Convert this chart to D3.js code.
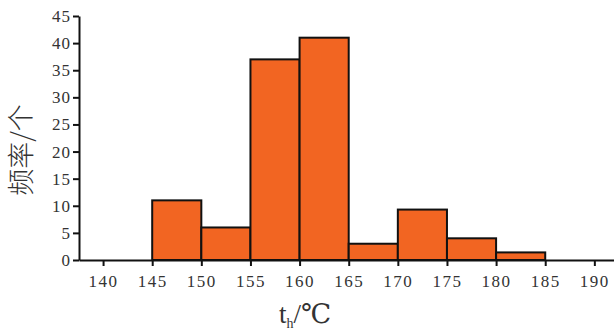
<!DOCTYPE html>
<html>
<head>
<meta charset="utf-8">
<script src="https://cdn.jsdelivr.net/npm/d3@7"></script>
<style>
  body { margin: 0; background: #fff; }
</style>
</head>
<body>
<div id="chart"></div>
<script>
// bins (lower edge, upper edge) and counts
const binStarts = [145, 150, 155, 160, 165, 170, 175, 180];
const binEnds   = [150, 155, 160, 165, 170, 175, 180, 185];
const counts    = [11, 6, 37, 41, 3, 9.3, 4, 1.4];
const xTicks = [140, 145, 150, 155, 160, 165, 170, 175, 180, 185, 190];
const yTicks = [0, 5, 10, 15, 20, 25, 30, 35, 40, 45];

const width = 614, height = 331;
const margin = { top: 16, right: 0, bottom: 71, left: 79 };
const serif = "'Liberation Serif', 'DejaVu Serif', serif";

const svg = d3.select("#chart").append("svg")
    .attr("width", width)
    .attr("height", height);

const x = d3.scaleLinear()
    .domain([137.55, 192])
    .range([margin.left, width - margin.right]);

const y = d3.scaleLinear()
    .domain([0, 45])
    .range([height - margin.bottom, margin.top]);

// bars
svg.selectAll("rect.bar")
    .data(counts)
    .join("rect")
    .attr("class", "bar")
    .attr("x", (d, i) => x(binStarts[i]))
    .attr("width", (d, i) => x(binEnds[i]) - x(binStarts[i]))
    .attr("y", d => y(d))
    .attr("height", d => y(0) - y(d))
    .attr("fill", "#f26522")
    .attr("stroke", "#111")
    .attr("stroke-width", 2);

// x axis
const xAxis = svg.append("g")
    .attr("transform", "translate(0," + y(0) + ")")
    .call(d3.axisBottom(x).tickValues(xTicks).tickSize(6).tickPadding(9).tickSizeOuter(0));
xAxis.select(".domain").attr("stroke", "#111").attr("stroke-width", 2);
xAxis.selectAll(".tick line").attr("stroke", "#111").attr("stroke-width", 2);
xAxis.selectAll("text")
    .style("font-family", serif)
    .style("font-size", "17px")
    .style("letter-spacing", "1.5px")
    .attr("fill", "#333");

// y axis
const yAxis = svg.append("g")
    .attr("transform", "translate(" + margin.left + ",0)")
    .call(d3.axisLeft(y).tickValues(yTicks).tickSize(6).tickPadding(2).tickSizeOuter(0));
yAxis.select(".domain").attr("stroke", "#111").attr("stroke-width", 2);
yAxis.selectAll(".tick line").attr("stroke", "#111").attr("stroke-width", 2);
yAxis.selectAll("text")
    .style("font-family", serif)
    .style("font-size", "17px")
    .style("letter-spacing", "1px")
    .attr("fill", "#333");

// axis titles
svg.append("text")
    .attr("transform", "translate(31,150) rotate(-90)")
    .attr("text-anchor", "middle")
    .attr("fill", "#333")
    .style("font-family", "'Noto Sans CJK SC', sans-serif")
    .style("font-size", "27px")
    .style("font-weight", 300)
    .text("频率/个");

const xl = svg.append("text")
    .attr("x", 305)
    .attr("y", 323)
    .attr("text-anchor", "middle")
    .attr("fill", "#333")
    .style("font-family", serif)
    .style("font-size", "27px");
xl.append("tspan").text("t");
xl.append("tspan").style("font-size", "14px").attr("dy", 5).text("h");
xl.append("tspan").attr("dy", -5).text("/℃");
</script>
</body>
</html>
